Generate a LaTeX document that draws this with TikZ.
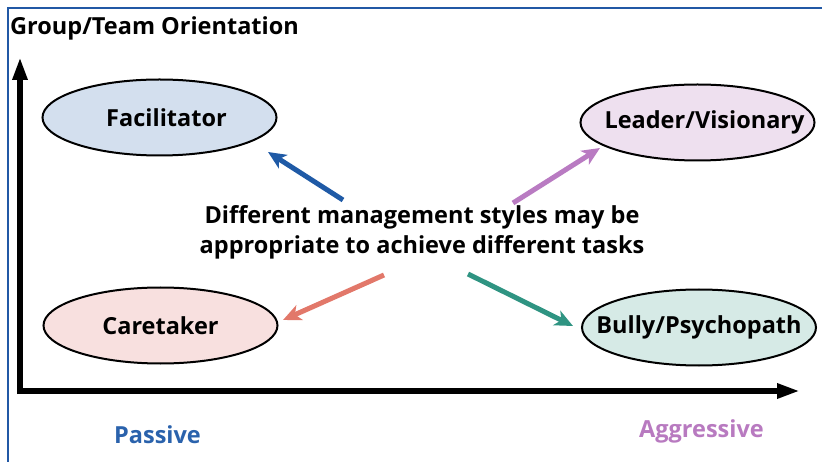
\documentclass[tikz,border=0pt]{standalone}
\usepackage{fontspec}
\setmainfont{Open Sans}
\usetikzlibrary{arrows.meta,shapes.geometric}

\definecolor{frameblue}{HTML}{2158A5}
\definecolor{facfill}{HTML}{D3DFEE}
\definecolor{leadfill}{HTML}{EEE0EF}
\definecolor{carefill}{HTML}{F8E0DF}
\definecolor{bullyfill}{HTML}{D6EAE6}
\definecolor{arrblue}{HTML}{1F5AA6}
\definecolor{arrpurple}{HTML}{B97BC2}
\definecolor{arrsalmon}{HTML}{E2786A}
\definecolor{arrteal}{HTML}{2F9482}
\definecolor{passblue}{HTML}{2A62AC}
\definecolor{aggpurple}{HTML}{B87AC0}

% oval label: zero-width box so the text never enlarges the ellipse
\newcommand{\ovaltext}[2][0pt]{\makebox[0pt]{\hspace*{#1}#2}}

\tikzset{
  txt/.style={font=\bfseries\fontsize{23.5}{30}\selectfont, inner sep=0pt},
  style oval/.style={ellipse, draw=black, line width=2pt, minimum width=234pt,
    minimum height=76pt, inner sep=0pt, txt},
  axis/.style={line width=6.5pt, -{Triangle[length=23pt,width=14pt]}},
  pointer/.style={line width=5pt, -{Stealth[length=18pt,width=16pt,inset=5pt]}}
}

\begin{document}
\begin{tikzpicture}[x=1pt,y=-1pt]
  \useasboundingbox (0,0) rectangle (822,462);

  % frame lines along the top and left
  \draw[frameblue, line width=2.2pt] (8,462) -- (8,8) -- (822,8);

  % title
  \node[txt, anchor=base west] (title) at (10,35) {Group/Team Orientation};

  % axes
  \coordinate (origin) at (17,391);
  \coordinate (ytop) at (20,57);
  \coordinate (xend) at (800,391);
  \draw[axis] (20,394) -- (ytop);
  \draw[axis] (origin) -- (xend);

  % the four management styles
  \node[style oval, fill=facfill]   (fac)   at (159.5,117.5) {\ovaltext[14pt]{Facilitator}};
  \node[style oval, fill=leadfill]  (lead)  at (697.5,122.5) {\ovaltext[14pt]{Leader/Visionary}};
  \node[style oval, fill=carefill]  (care)  at (160.5,325.5) {\ovaltext{Caretaker}};
  \node[style oval, fill=bullyfill] (bully) at (699,327.5)   {\ovaltext{Bully/Psychopath}};

  % central statement
  \node[txt, align=center] (msg) at (422,232)
    {Different management styles may be\\appropriate to achieve different tasks};

  % arrow ends
  \coordinate (sFac)   at (343,200);
  \coordinate (tFac)   at (268,152);
  \coordinate (sLead)  at (513,203);
  \coordinate (tLead)  at (600,148);
  \coordinate (sCare)  at (384,275);
  \coordinate (tCare)  at (283,320);
  \coordinate (sBully) at (468,274);
  \coordinate (tBully) at (573,326);

  \draw[pointer, arrblue]   (sFac)   -- (tFac);
  \draw[pointer, arrpurple] (sLead)  -- (tLead);
  \draw[pointer, arrsalmon] (sCare)  -- (tCare);
  \draw[pointer, arrteal]   (sBully) -- (tBully);

  % axis end labels
  \node[txt, anchor=base, text=passblue]  (passive) at (157.5,443) {Passive};
  \node[txt, anchor=base, text=aggpurple] (aggr)    at (701.5,437) {Aggressive};
\end{tikzpicture}
\end{document}
